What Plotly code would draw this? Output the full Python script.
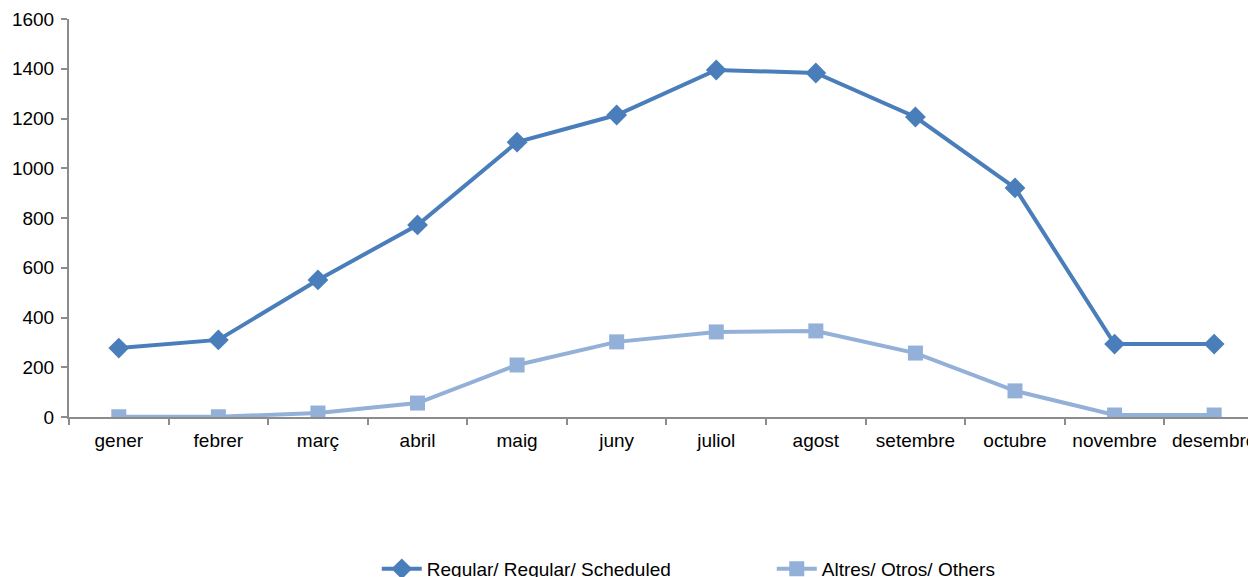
import plotly.graph_objects as go

months = ["gener", "febrer", "març", "abril", "maig", "juny", "juliol",
          "agost", "setembre", "octubre", "novembre", "desembre"]
regular = [277, 310, 551, 772, 1105, 1214, 1395, 1383, 1206, 921, 293, 293]
others = [1, 1, 16, 56, 209, 302, 342, 346, 257, 105, 8, 8]
y_ticks = [0, 200, 400, 600, 800, 1000, 1200, 1400, 1600]

fig = go.Figure()
fig.add_trace(go.Scatter(
    x=months, y=regular, name="Regular/ Regular/ Scheduled", mode="lines+markers",
    line=dict(color="#4A7EBB", width=4),
    marker=dict(symbol="diamond", size=16, color="#4A7EBB"),
))
fig.add_trace(go.Scatter(
    x=months, y=others, name="Altres/ Otros/ Others", mode="lines+markers",
    line=dict(color="#93B0D8", width=4),
    marker=dict(symbol="square", size=15, color="#93B0D8"),
))

fig.update_layout(
    width=1248, height=580,
    margin=dict(l=61, r=0, t=11, b=171),
    paper_bgcolor="white", plot_bgcolor="white",
    font=dict(family="Liberation Sans, Arial, sans-serif", size=19, color="#000000"),
    showlegend=True,
    legend=dict(orientation="h", xref="container", x=0.612, xanchor="center",
                yref="container", y=0, yanchor="bottom",
                font=dict(size=19), entrywidth=340, itemwidth=40),
    xaxis=dict(
        type="category", range=[-0.5, 11.37],
        showline=True, linecolor="#8C8C8C", linewidth=2,
        ticks="outside", tickson="boundaries", ticklen=6, tickcolor="#8C8C8C", tickwidth=2,
        showgrid=False, zeroline=False, tickfont=dict(size=19), ticklabelstandoff=5,
    ),
    yaxis=dict(
        range=[0, 1600], tickvals=y_ticks,
        showline=True, linecolor="#8C8C8C", linewidth=2,
        ticks="outside", ticklen=6, tickcolor="#8C8C8C", tickwidth=2,
        showgrid=False, zeroline=False, tickfont=dict(size=19), ticklabelstandoff=3,
    ),
)

fig.write_html("out.html")
